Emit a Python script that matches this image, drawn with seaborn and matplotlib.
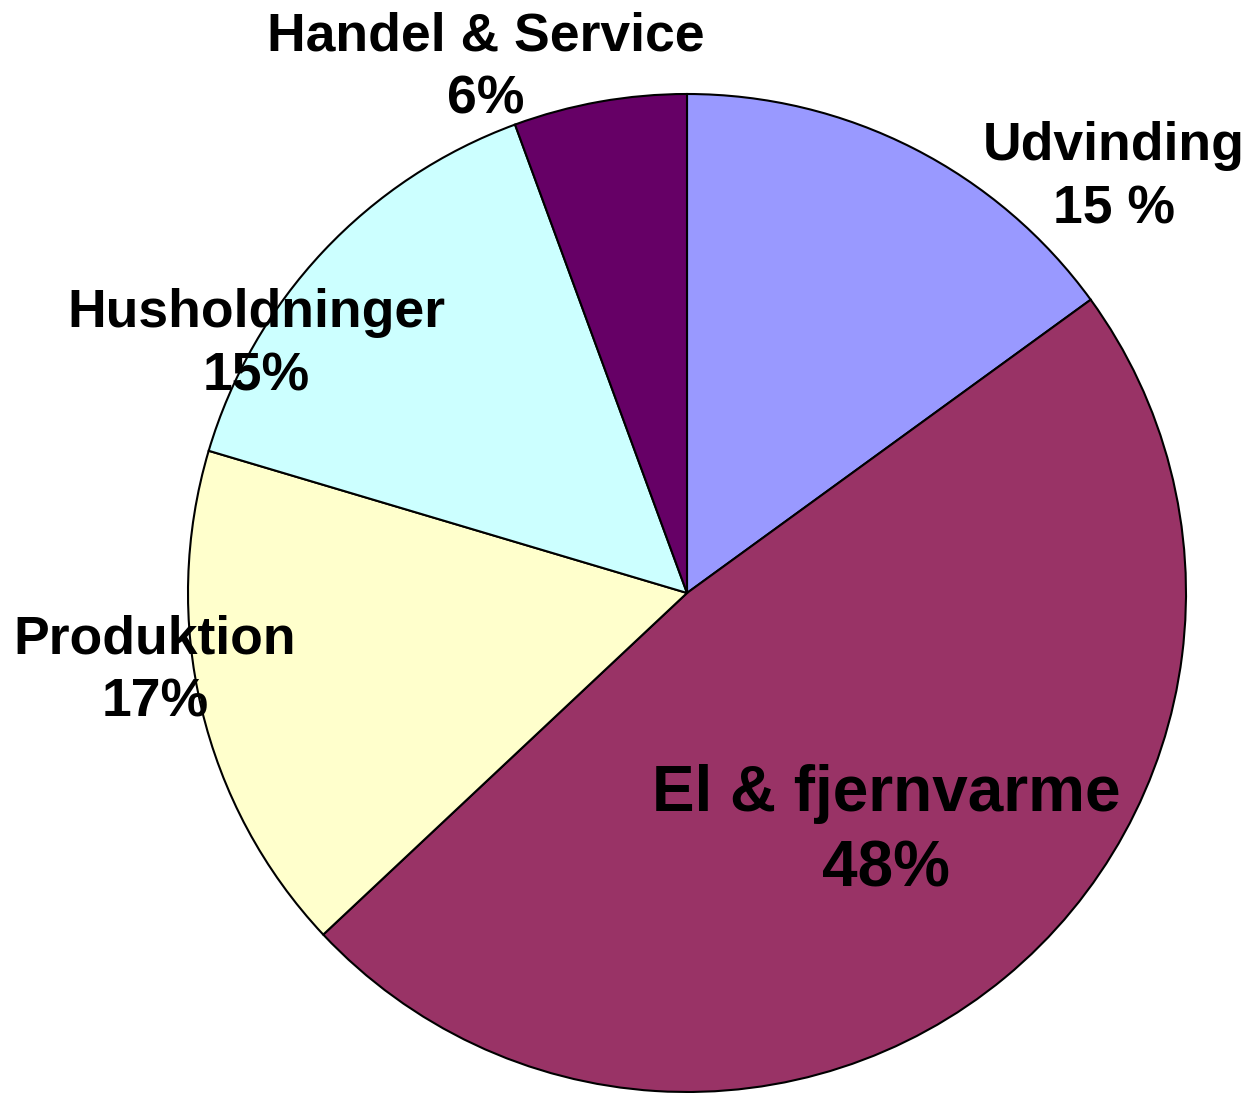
import matplotlib
matplotlib.use("Agg")
import matplotlib.pyplot as plt
import seaborn as sns

sectors = ["Udvinding", "El & fjernvarme", "Produktion", "Husholdninger", "Handel & Service"]
shares = [15.0, 48.0, 16.6, 14.8, 5.6]
pct_labels = ["15 %", "48%", "17%", "15%", "6%"]
colors = ["#9999FF", "#993366", "#FFFFCC", "#CCFFFF", "#660066"]

sns.set_theme(style="white")
plt.rcParams["font.family"] = ["Liberation Sans", "DejaVu Sans"]

fig = plt.figure(figsize=(12.48, 10.93), dpi=100)
ax = fig.add_axes([0, 0, 1, 1])

# pie in pixel-like units so the layout matches the picture
ax.pie(shares, colors=colors, startangle=90, counterclock=False,
       radius=499, center=(687, 500),
       wedgeprops=dict(edgecolor="black", linewidth=1.5))
ax.set_xlim(0, 1248)
ax.set_ylim(0, 1093)
ax.set_aspect("equal")
ax.axis("off")

# label positions (x, y from top) and font sizes
label_pos = [(1114, 178), (886, 832), (155, 671), (256, 345), (486, 68)]
label_size = [38.5, 46, 38.5, 38.5, 38.5]
for name, pct, (x, y), fs in zip(sectors, pct_labels, label_pos, label_size):
    ax.text(x, 1093 - y, f"{name}\n{pct}", ha="center", va="center",
            fontsize=fs, fontweight="bold", color="black", linespacing=1.34)

fig.savefig("out.png", dpi=100)
